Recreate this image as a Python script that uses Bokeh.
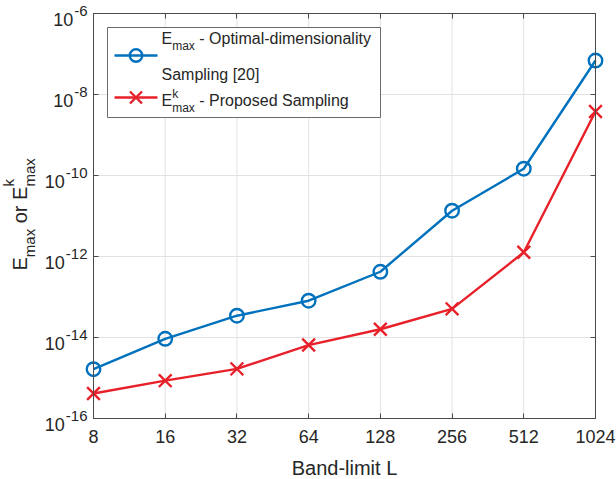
import math
from bokeh.plotting import figure
from bokeh.models import (Range1d, LinearScale, LogAxis, FixedTicker, PrintfTickFormatter,
                          CustomJSTickFormatter, Label)
from bokeh.embed import file_html
from bokeh.resources import INLINE

# ---------------- data ----------------
band_limit = [8, 16, 32, 64, 128, 256, 512, 1024]
e_max_optimal = [1.65e-15, 9.3e-15, 3.45e-14, 8.1e-14, 4.2e-13, 1.35e-11, 1.47e-10, 6.9e-8]
e_max_proposed = [4.15e-16, 8.6e-16, 1.68e-15, 6.5e-15, 1.6e-14, 5.1e-14, 1.27e-12, 3.8e-9]
x_ticks = [8, 16, 32, 64, 128, 256, 512, 1024]
y_ticks = [1e-16, 1e-14, 1e-12, 1e-10, 1e-8, 1e-6]
y_tick_exponents = ["-16", "-14", "-12", "-10", "-8", "-6"]
legend_optimal = ["E", "max", "- Optimal-dimensionality", "Sampling [20]"]
legend_proposed = ["E", "k", "max", "- Proposed Sampling"]
y_label_parts = ["E", "max", "or", "E", "k", "max"]
x_label = "Band-limit L"

# ---------------- style / layout ----------------
FONT = "Liberation Sans"
BLUE = "#0072BD"
RED = "#E8202A"
TEXT = "#262626"
AXIS = "#4a4a4a"
GRID = "#e2e2e2"
DESC = 0.26          # baseline correction (fraction of font size)

W, H = 616, 479
PL, PR, PT, PB = 93, 595, 13, 418      # plot box in canvas pixels

CW = {"-": 0.333, " ": 0.278, "m": 0.833, "a": 0.556, "x": 0.5, "E": 0.667,
      "o": 0.556, "r": 0.333, "k": 0.5}
for d in "0123456789":
    CW[d] = 0.556


def tw(s, size):
    return sum(CW.get(c, 0.556) for c in s) * size


# log ranges extended so that the frame covers the whole canvas
x_lo, x_hi = x_ticks[0], x_ticks[-1]
y_lo, y_hi = y_ticks[0], y_ticks[-1]
kx = (PR - PL) / math.log2(x_hi / x_lo)
ky = (PB - PT) / math.log10(y_hi / y_lo)
x_start = x_lo * 2 ** (-PL / kx)
x_end = x_hi * 2 ** ((W - PR) / kx)
y_start = y_lo * 10 ** (-(H - PB) / ky)
y_end = y_hi * 10 ** (PT / ky)

p = figure(width=W, height=H, x_axis_type="log", y_axis_type="log",
           x_range=Range1d(x_start, x_end), y_range=Range1d(y_start, y_end),
           output_backend="svg", toolbar_location=None, title=None,
           min_border_left=0, min_border_right=0, min_border_top=0, min_border_bottom=0)
p.extra_x_ranges = {"px": Range1d(0, W)}
p.extra_y_ranges = {"px": Range1d(H, 0)}
p.extra_x_scales = {"px": LinearScale()}
p.extra_y_scales = {"px": LinearScale()}
p.background_fill_color = "white"
p.border_fill_color = "white"
p.outline_line_color = None
p.xgrid.visible = False
p.ygrid.visible = False

xt = FixedTicker(ticks=x_ticks, minor_ticks=[])
yt = FixedTicker(ticks=y_ticks, minor_ticks=[])
blank = CustomJSTickFormatter(code="return ''")


def style_axis(ax):
    ax.axis_line_color = AXIS
    ax.axis_line_width = 1
    ax.major_tick_line_color = AXIS
    ax.major_tick_line_width = 1
    ax.major_tick_in = 5
    ax.major_tick_out = 0
    ax.minor_tick_in = 0
    ax.minor_tick_out = 0
    ax.minor_tick_line_color = None


# ---------------- grid (drawn from tick arrays through the scales) ----------------
p.segment(x0=x_ticks, y0=[y_lo] * len(x_ticks), x1=x_ticks, y1=[y_hi] * len(x_ticks),
          line_color=GRID, line_width=1)
p.segment(x0=[x_lo] * len(y_ticks), y0=y_ticks, x1=[x_hi] * len(y_ticks), y1=y_ticks,
          line_color=GRID, line_width=1)

# ---------------- axes (box with inward ticks) ----------------
xax = p.below[0]
xax.ticker = xt
xax.fixed_location = y_lo
xax.bounds = (x_lo, x_hi)
xax.formatter = PrintfTickFormatter(format="%d")
xax.major_label_text_font = FONT
xax.major_label_text_font_size = "18px"
xax.major_label_text_color = TEXT
xax.major_label_standoff = 11
style_axis(xax)

yax = p.left[0]
yax.ticker = yt
yax.fixed_location = x_lo
yax.bounds = (y_lo, y_hi)
yax.formatter = blank
yax.major_label_text_font_size = "0px"
yax.major_label_standoff = 0
style_axis(yax)

top_ax = LogAxis(ticker=xt, formatter=blank, major_label_text_font_size="0px",
                 major_label_standoff=0, fixed_location=y_hi, bounds=(x_lo, x_hi))
style_axis(top_ax)
p.add_layout(top_ax, "above")
right_ax = LogAxis(ticker=yt, formatter=blank, major_label_text_font_size="0px",
                   major_label_standoff=0, fixed_location=x_hi, bounds=(y_lo, y_hi))
style_axis(right_ax)
p.add_layout(right_ax, "right")

# ---------------- data series ----------------
p.line(band_limit, e_max_optimal, line_color=BLUE, line_width=2.4)
p.scatter(band_limit, e_max_optimal, marker="circle", size=13.5, fill_color=None,
          line_color=BLUE, line_width=2.4)
p.line(band_limit, e_max_proposed, line_color=RED, line_width=2.4)
p.scatter(band_limit, e_max_proposed, marker="x", size=18, line_color=RED, line_width=2.4)


def add_text(txt, x, y, size, angle=0.0, align="left", yr="px", y_off=0, color=TEXT):
    d = DESC * size
    if angle:
        x = x - d
    elif yr == "px":
        y = y - d
    else:
        y_off = y_off + d
    p.add_layout(Label(x=x, y=y, text=txt, x_range_name="px", y_range_name=yr,
                       text_font=FONT, text_font_size=f"{size}px", text_color=color,
                       text_align=align, text_baseline="alphabetic", angle=angle,
                       y_offset=y_off))


# ---------------- y tick labels (10 with superscript exponent) ----------------
for t, ex in zip(y_ticks, y_tick_exponents):
    sw = tw(ex, 15)
    xr = PL - 6 - sw
    add_text("10", xr - 1, t, 18, align="right", yr="default", y_off=-11)
    add_text(ex, xr, t, 15, align="left", yr="default", y_off=-1)

# ---------------- axis labels ----------------
add_text(x_label, (PL + PR) / 2, 473, 20, align="center")

ang = math.pi / 2
xbase, xsub, xsup = 25, 33, 12
pos = 270
add_text(y_label_parts[0], xbase, pos, 20, angle=ang)
pos -= tw("E", 20)
add_text(y_label_parts[1], xsub, pos, 15, angle=ang)
pos -= tw("max", 15) + tw(" ", 20)
add_text(y_label_parts[2], xbase, pos, 20, angle=ang)
pos -= tw("or ", 20)
add_text(y_label_parts[3], xbase, pos, 20, angle=ang)
pos -= tw("E", 20)
add_text(y_label_parts[4], xsup, pos, 15, angle=ang)
add_text(y_label_parts[5], xsub, pos, 15, angle=ang)

# ---------------- legend ----------------
p.quad(left=[107], right=[380], top=[27], bottom=[117], x_range_name="px", y_range_name="px",
       fill_color="white", line_color="#6a6a6a", line_width=1)

ly1, ly2 = 55, 97
p.line([114, 157], [ly1, ly1], x_range_name="px", y_range_name="px", line_color=BLUE,
       line_width=2.4)
p.scatter([135.5], [ly1], x_range_name="px", y_range_name="px", marker="circle", size=12.5,
          fill_color=None, line_color=BLUE, line_width=2.4)
p.line([114, 157], [ly2, ly2], x_range_name="px", y_range_name="px", line_color=RED,
       line_width=2.4)
p.scatter([135.5], [ly2], x_range_name="px", y_range_name="px", marker="x", size=17,
          line_color=RED, line_width=2.4)

tx = 161
b1 = 42
add_text(legend_optimal[0], tx, b1, 16)
add_text(legend_optimal[1], tx + tw("E", 16), b1 + 7, 12)
add_text(legend_optimal[2], tx + tw("E", 16) + tw("max", 12) + tw(" ", 16), b1, 16)
add_text(legend_optimal[3], tx, 78, 16)

b2 = 104
add_text(legend_proposed[0], tx, b2, 16)
add_text(legend_proposed[1], tx + tw("E", 16), b2 - 7, 12)
add_text(legend_proposed[2], tx + tw("E", 16), b2 + 7, 12)
add_text(legend_proposed[3], tx + tw("E", 16) + tw("max", 12) + tw(" ", 16), b2, 16)

open("out.html", "w").write(file_html(p, INLINE))
